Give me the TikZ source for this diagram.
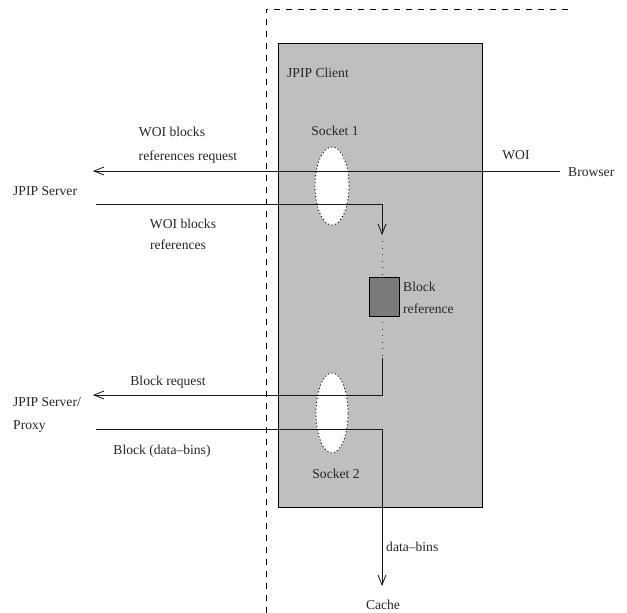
\documentclass[tikz,border=0pt]{standalone}
\usepackage{fontspec}
\setmainfont{Liberation Serif}
\usetikzlibrary{arrows.meta,shapes.geometric}
\begin{document}
\begin{tikzpicture}[x=1pt,y=-1pt,
  lbl/.style={font=\fontsize{13.6}{16}\selectfont, inner sep=0pt, text height=9pt, text depth=0pt, text=black!85},
  wire/.style={line width=0.8pt, draw=black!90},
  flow/.style={wire, -{Straight Barb[length=10pt,width=8pt,line width=0.8pt]}},
  sparse/.style={line width=1pt, draw=black!80, dash pattern=on 1pt off 5.5pt},
  frame/.style={line width=0.8pt, dash pattern=on 6pt off 6pt},
  socket/.style={ellipse, draw, fill=white, dash pattern=on 1pt off 2.5pt, line width=0.9pt, minimum width=34pt, minimum height=78pt, inner sep=0pt},
  blockref/.style={draw, fill=black!52, line width=0.8pt, minimum width=30pt, minimum height=39pt, inner sep=0pt}]
\useasboundingbox (0,0) rectangle (627,613);
% dashed frame
\coordinate (fb) at (266,613);
\coordinate (ftl) at (266,9);
\coordinate (fr) at (568,9);
\draw[frame] (fb) -- (ftl) -- (fr);
% client box
\node[draw, fill=black!25, line width=0.8pt, minimum width=204pt, minimum height=464pt, inner sep=0pt] (client) at (380,275) {};
\node[lbl, anchor=west] (clientlbl) at (287,73) {JPIP Client};
% sockets
\node[socket] (s1) at (332,186) {};
\node[socket, minimum height=80pt, minimum width=32pt] (s2) at (332,413) {};
\node[lbl] (s1lbl) at (335,131) {Socket 1};
\node[lbl] (s2lbl) at (336,474) {Socket 2};
% block reference
\node[blockref] (br) at (384,297) {};
\node[lbl, anchor=west] (brl1) at (403,287) {Block};
\node[lbl, anchor=west] (brl2) at (403,309) {reference};
% endpoints
\node[lbl, anchor=west] (browser) at (568,172) {Browser};
\node[lbl, anchor=west] (srv) at (13,191) {JPIP Server};
\node[lbl, anchor=west] (prx1) at (13,402) {JPIP Server/};
\node[lbl, anchor=west] (prx2) at (13,425) {Proxy};
\node[lbl] (cache) at (383,605) {Cache};
% coordinates for connectors
\coordinate (woiR) at (560,171);
\coordinate (woiL) at (93,171);
\coordinate (refL) at (96,204);
\coordinate (refC) at (382,204);
\coordinate (refT) at (382,235);
\coordinate (dotA) at (382,241);
\coordinate (dotB) at (382,322);
\coordinate (dotC) at (382,358);
\coordinate (reqC) at (382,395);
\coordinate (reqL) at (93,395);
\coordinate (binL) at (96,429);
\coordinate (binC) at (382,429);
\coordinate (binT) at (382,586);
% connectors
\draw[flow] (woiR) -- (woiL);
\draw[flow] (refL) -- (refC) -- (refT);
\draw[sparse] (dotA) -- (br.north -| dotA);
\draw[sparse] (dotB) -- (dotC);
\draw[flow] (dotC) -- (reqC) -- (reqL);
\draw[flow] (binL) -- (binC) -- (binT);
% labels
\node[lbl] (woi) at (516,155) {WOI};
\node[lbl] (q1) at (172,132) {WOI blocks};
\node[lbl] (q2) at (188,156) {references request};
\node[lbl] (r1) at (183,224) {WOI blocks};
\node[lbl] (r2) at (178,245) {references};
\node[lbl] (breq) at (168,381) {Block request};
\node[lbl] (bdb) at (162,450) {Block (data--bins)};
\node[lbl, anchor=west] (db) at (386,547) {data--bins};
\end{tikzpicture}
\end{document}
